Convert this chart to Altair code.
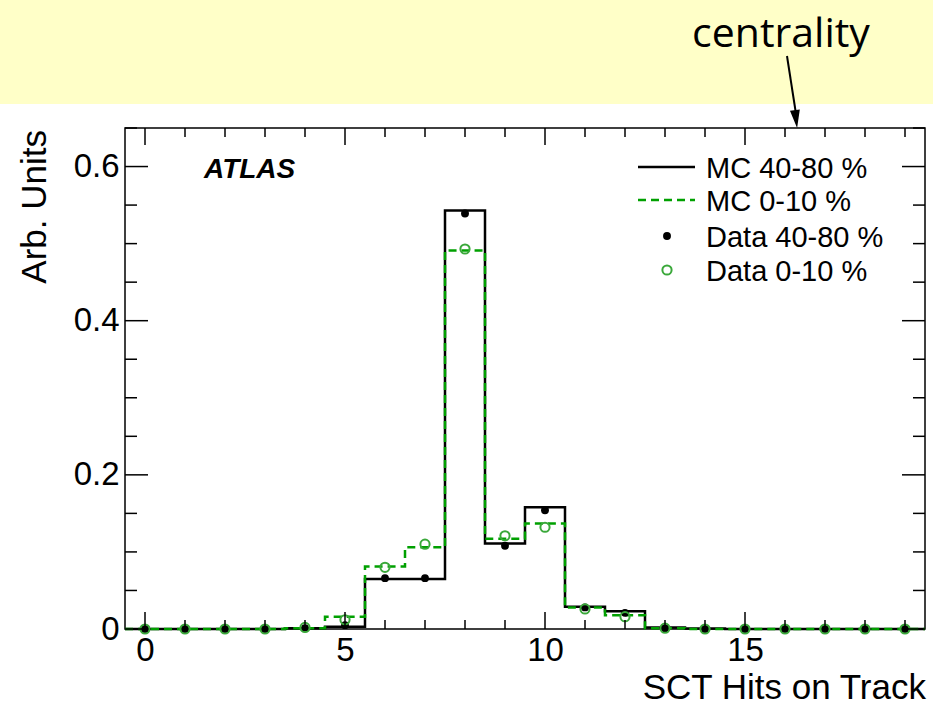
import altair as alt
import pandas as pd

# --- data: fraction of tracks per number of SCT hits ---
hits = list(range(20))
mc_periph = [0, 0, 0, 0, 0.001, 0.003, 0.065, 0.065, 0.543, 0.111, 0.158, 0.029,
             0.023, 0.002, 0.0005, 0, 0, 0, 0, 0]
mc_central = [0, 0, 0, 0, 0.001, 0.016, 0.081, 0.106, 0.491, 0.117, 0.137, 0.028,
              0.018, 0.001, 0, 0, 0, 0, 0, 0]
data_periph = [0, 0, 0, 0, 0.001, 0.005, 0.066, 0.066, 0.539, 0.108, 0.154, 0.028,
               0.021, 0.001, 0, 0, 0, 0, 0, 0]
data_central = [0, 0, 0, 0, 0.002, 0.012, 0.080, 0.110, 0.493, 0.121, 0.132, 0.026,
                0.016, 0.001, 0, 0, 0, 0, 0, 0]

legend_labels = ["MC 40-80 %", "MC 0-10 %", "Data 40-80 %", "Data 0-10 %"]
x_tick_labels = [0, 5, 10, 15]
y_tick_labels = [0, 0.2, 0.4, 0.6]

W, H = 800, 501
FONT = "Liberation Sans"
GREEN = "#00a000"
GREEN_PT = "#3aa83a"

xs = alt.Scale(domain=[-0.5, 19.5], nice=False, zero=False)
ys = alt.Scale(domain=[0, 0.65], nice=False, zero=False)


def step_table(values):
    edges = [h - 0.5 for h in hits] + [hits[-1] + 0.5]
    return pd.DataFrame({"x": edges, "y": list(values) + [values[-1]]})


one = pd.DataFrame({"k": [0]})

# header band with annotation
band = alt.Chart(one).mark_rect(color="#ffffc8").encode(
    x=alt.value(-125), x2=alt.value(808), y=alt.value(-128), y2=alt.value(-24))
centr = alt.Chart(one).mark_text(
    text="centrality", font="Open Sans", fontSize=41, color="black",
    align="center", baseline="alphabetic").encode(x=alt.value(656), y=alt.value(-81))
arrow_line = alt.Chart(one).mark_rule(color="black", strokeWidth=2).encode(
    x=alt.value(662), y=alt.value(-72), x2=alt.value(671), y2=alt.value(-14))
arrow_head = alt.Chart(one).mark_point(
    shape="M -0.55 -1 L 0.55 -1 L 0 1 Z", filled=True, color="black", opacity=1,
    size=324, angle=353).encode(x=alt.value(671), y=alt.value(-9))

# histograms
h_black = alt.Chart(step_table(mc_periph)).mark_line(
    interpolate="step-after", color="black", strokeWidth=2.5).encode(
    x=alt.X("x:Q", scale=xs, axis=alt.Axis(
        values=x_tick_labels, format="d", labelFont=FONT, labelFontSize=33,
        labelColor="black", labelPadding=5, ticks=False, domain=False, grid=False,
        title=None)),
    y=alt.Y("y:Q", scale=ys, axis=alt.Axis(
        values=y_tick_labels, labelExpr="datum.value == 0 ? '0' : format(datum.value, '.1f')",
        labelFont=FONT, labelFontSize=33, labelColor="black", labelPadding=6,
        ticks=False, domain=False, grid=False, title=None)))
h_green = alt.Chart(step_table(mc_central)).mark_line(
    interpolate="step-after", color=GREEN, strokeWidth=2.5, strokeDash=[8, 5]).encode(
    x=alt.X("x:Q", scale=xs), y=alt.Y("y:Q", scale=ys))

pts_black = alt.Chart(pd.DataFrame({"x": hits, "y": data_periph})).mark_point(
    shape="circle", filled=True, color="black", opacity=1, size=62).encode(
    x=alt.X("x:Q", scale=xs), y=alt.Y("y:Q", scale=ys))
pts_green = alt.Chart(pd.DataFrame({"x": hits, "y": data_central})).mark_point(
    shape="circle", filled=False, color=GREEN_PT, opacity=1, size=85, strokeWidth=2).encode(
    x=alt.X("x:Q", scale=xs), y=alt.Y("y:Q", scale=ys))

# inward ticks on all four sides
x_major = x_tick_labels
x_minor = [h for h in hits if h not in x_major]
y_major = y_tick_labels
y_minor = [round(0.05 * i, 2) for i in range(14) if round(0.05 * i, 2) not in y_major]


def xticks(vals, length):
    d = pd.DataFrame({"t": vals})
    bot = alt.Chart(d).mark_rule(color="black", strokeWidth=1.5).encode(
        x=alt.X("t:Q", scale=xs), y=alt.value(H), y2=alt.value(H - length))
    top = alt.Chart(d).mark_rule(color="black", strokeWidth=1.5).encode(
        x=alt.X("t:Q", scale=xs), y=alt.value(0), y2=alt.value(length))
    return [bot, top]


def yticks(vals, length):
    d = pd.DataFrame({"t": vals})
    left = alt.Chart(d).mark_rule(color="black", strokeWidth=1.5).encode(
        y=alt.Y("t:Q", scale=ys), x=alt.value(0), x2=alt.value(length))
    right = alt.Chart(d).mark_rule(color="black", strokeWidth=1.5).encode(
        y=alt.Y("t:Q", scale=ys), x=alt.value(W), x2=alt.value(W - length))
    return [left, right]


ticks = xticks(x_major, 17) + xticks(x_minor, 9) + yticks(y_major, 23) + yticks(y_minor, 12)

# axis titles and label
y_title = alt.Chart(one).mark_text(
    text="Arb. Units", font=FONT, fontSize=35, angle=270, align="right",
    baseline="middle", color="black").encode(x=alt.value(-90), y=alt.value(2))
x_title = alt.Chart(one).mark_text(
    text="SCT Hits on Track", font=FONT, fontSize=35, align="right",
    baseline="alphabetic", color="black").encode(x=alt.value(801), y=alt.value(571))
atlas = alt.Chart(one).mark_text(
    text="ATLAS", font=FONT, fontSize=28, fontWeight="bold", fontStyle="italic",
    align="left", baseline="middle", color="black").encode(x=alt.value(79), y=alt.value(42))

# legend
leg = []
row_y = [39, 72, 108, 142]
for i, lab in enumerate(legend_labels):
    leg.append(alt.Chart(one).mark_text(
        text=lab, font=FONT, fontSize=29, align="left", baseline="middle",
        color="black").encode(x=alt.value(581), y=alt.value(row_y[i] + 2)))
leg.append(alt.Chart(one).mark_rule(color="black", strokeWidth=2.5).encode(
    x=alt.value(513), x2=alt.value(570), y=alt.value(row_y[0])))
leg.append(alt.Chart(one).mark_rule(color=GREEN, strokeWidth=2.5, strokeDash=[8, 5]).encode(
    x=alt.value(513), x2=alt.value(570), y=alt.value(row_y[1])))
leg.append(alt.Chart(one).mark_point(
    shape="circle", filled=True, color="black", opacity=1, size=62).encode(
    x=alt.value(542), y=alt.value(row_y[2])))
leg.append(alt.Chart(one).mark_point(
    shape="circle", filled=False, color=GREEN_PT, opacity=1, size=85, strokeWidth=2).encode(
    x=alt.value(542), y=alt.value(row_y[3])))

chart = alt.layer(
    band, centr, arrow_line, arrow_head,
    h_black, h_green, pts_black, pts_green,
    *ticks, y_title, x_title, atlas, *leg
).properties(
    width=W, height=H,
    autosize=alt.AutoSizeParams(type="none"),
    padding={"left": 125, "top": 128, "right": 8, "bottom": 77},
    background="white",
).configure_view(stroke="black", strokeWidth=1.5)

chart.save("out.html", embed_options={"renderer": "svg", "actions": False})
